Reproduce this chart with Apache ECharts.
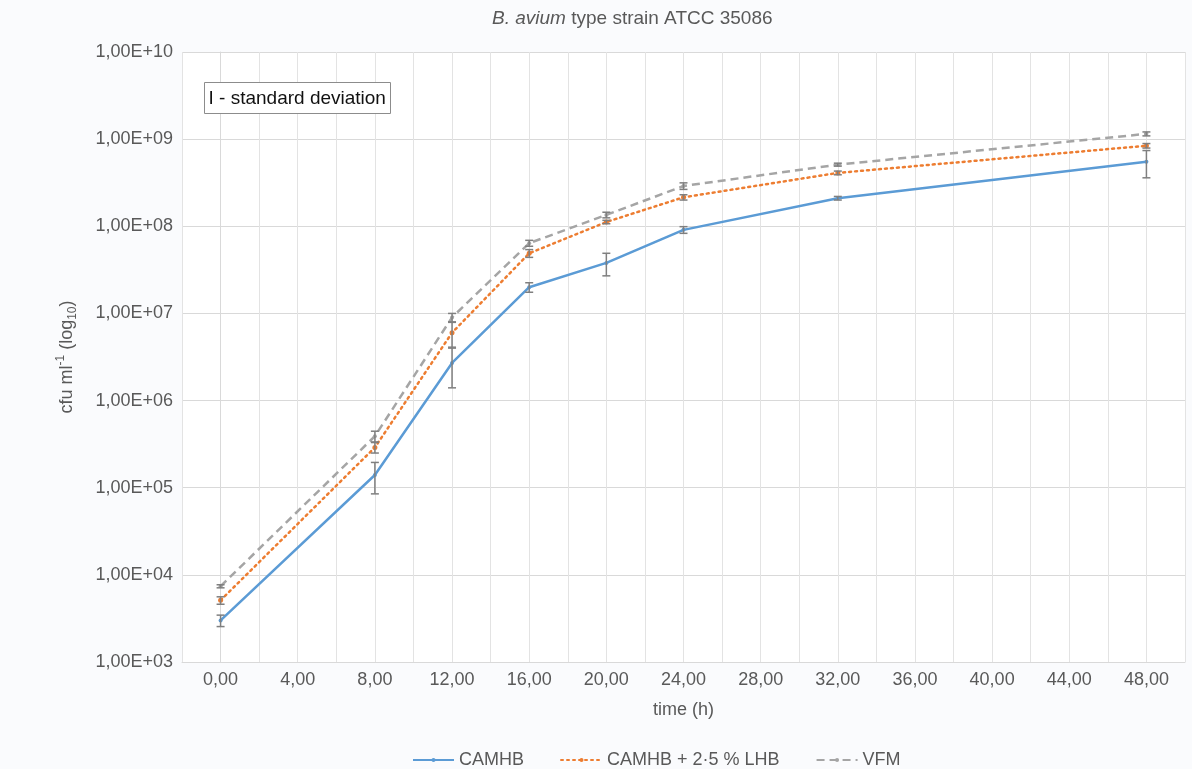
<!DOCTYPE html>
<html>
<head>
<meta charset="utf-8">
<script src="https://cdn.jsdelivr.net/npm/echarts@6/dist/echarts.min.js"></script>
<style>html,body{margin:0;padding:0;background:#fafbfd;}#c{width:1192px;height:769px;}</style>
</head>
<body>
<div id="c"></div>
<script>
// time points (h)
const timePoints = [0, 8, 12, 16, 20, 24, 32, 48];
// x tick labels (every 4 h)
const xTickLabels = ['0,00','4,00','8,00','12,00','16,00','20,00','24,00','28,00','32,00','36,00','40,00','44,00','48,00'];
// series values (cfu/ml) and standard deviations
const camhb    = [3.0e3, 1.4e5, 2.7e6, 2.0e7, 3.8e7, 9.1e7, 2.1e8, 5.5e8];
const camhbSD  = [0.45e3, 0.55e5, 1.3e6, 2.5e6, 1.1e7, 0.8e7, 0.1e8, 1.9e8];
const lhb      = [5.1e3, 2.9e5, 6.0e6, 4.9e7, 1.12e8, 2.15e8, 4.1e8, 8.4e8];
const lhbSD    = [0.5e3, 0.4e5, 1.9e6, 0.5e7, 0.05e8, 0.15e8, 0.2e8, 0.5e8];
const vfm      = [7.4e3, 3.9e5, 9.0e6, 6.4e7, 1.35e8, 2.9e8, 5.1e8, 1.15e9];
const vfmSD    = [0.3e3, 0.55e5, 1.0e6, 0.5e7, 0.1e8, 0.25e8, 0.2e8, 0.6e8];
const seriesNames = ['CAMHB', 'CAMHB + 2·5 % LHB', 'VFM'];

function pairs(vals){ return timePoints.map((t,i)=>[t, vals[i]]); }
function errData(vals, sd){ return timePoints.map((t,i)=>[t, vals[i]-sd[i], vals[i]+sd[i]]); }

function errSeries(vals, sd){
  return {
    type: 'custom',
    silent: true,
    z: 5,
    data: errData(vals, sd),
    encode: {x: 0, y: [1,2]},
    renderItem: function(params, api){
      const x = api.value(0);
      const lo = api.coord([x, api.value(1)]);
      const hi = api.coord([x, api.value(2)]);
      const w = 4;
      const st = {stroke: '#7f7f7f', lineWidth: 1.5};
      return {type: 'group', children: [
        {type:'line', shape:{x1:lo[0], y1:lo[1], x2:hi[0], y2:hi[1]}, style: st},
        {type:'line', shape:{x1:lo[0]-w, y1:lo[1], x2:lo[0]+w, y2:lo[1]}, style: st},
        {type:'line', shape:{x1:hi[0]-w, y1:hi[1], x2:hi[0]+w, y2:hi[1]}, style: st}
      ]};
    }
  };
}

const chart = echarts.init(document.getElementById('c'), null, {renderer: 'canvas'});
const textColor = '#595959';
const FF = 'Liberation Sans';
const option = {
  backgroundColor: '#fafbfd',
  animation: false,
  title: {
    text: '{i|B. avium}{n| type strain ATCC 35086}',
    left: 487, top: 4,
    textStyle: {
      fontWeight: 'normal',
      rich: {
        i: {fontStyle: 'italic', fontWeight: 'normal', fontSize: 19, color: textColor, fontFamily: FF},
        n: {fontWeight: 'normal', fontSize: 19, color: textColor, fontFamily: FF}
      }
    }
  },
  grid: {left: 182, right: 7, top: 52, bottom: 107, show: true, backgroundColor: '#ffffff', borderWidth: 0},
  legend: {
    data: seriesNames,
    top: 746,
    left: 407,
    itemGap: 36,
    itemWidth: 41,
    itemHeight: 5,
    textStyle: {fontSize: 18, color: textColor, fontFamily: FF}
  },
  xAxis: {
    type: 'value',
    min: -2, max: 50, interval: 2,
    name: 'time (h)',
    nameLocation: 'middle',
    nameGap: 39,
    nameTextStyle: {fontSize: 18, color: textColor, fontFamily: FF},
    axisLine: {show: true, lineStyle: {color: '#d9d9d9'}},
    axisTick: {show: false},
    splitLine: {show: true, lineStyle: {color: '#e3e3e3', width: 1}},
    axisLabel: {
      fontSize: 18, color: textColor, fontFamily: FF, margin: 9,
      formatter: function(v){
        if (v < 0 || v > 48 || v % 4 !== 0) return '';
        return xTickLabels[v/4];
      }
    }
  },
  yAxis: {
    type: 'log',
    logBase: 10,
    min: 1e3, max: 1e10,
    name: '{a|cfu ml}{s|-1}{a| (log}{b|10}{a|)}',
    nameLocation: 'middle',
    nameGap: 103,
    nameRotate: 90,
    nameTextStyle: {
      rich: {
        a: {fontSize: 18, color: textColor, fontFamily: FF, lineHeight: 24},
        s: {fontSize: 12, color: textColor, fontFamily: FF, verticalAlign: 'top', lineHeight: 24},
        b: {fontSize: 12, color: textColor, fontFamily: FF, verticalAlign: 'bottom', lineHeight: 24}
      }
    },
    axisLine: {show: true, lineStyle: {color: '#d9d9d9'}},
    axisTick: {show: false},
    splitLine: {show: true, lineStyle: {color: '#d9d9d9', width: 1}},
    axisLabel: {
      fontSize: 18, color: textColor, fontFamily: FF, margin: 9,
      formatter: function(v){
        const e = Math.round(Math.log10(v));
        return '1,00E+' + (e < 10 ? '0' + e : e);
      }
    }
  },
  graphic: [{
    type: 'group', left: 204, top: 82, z: 100,
    children: [
      {type: 'rect', z: 100, shape: {x: 0, y: 0, width: 186, height: 31}, style: {fill: '#ffffff', stroke: '#8c8c8c', lineWidth: 1}},
      {type: 'text', z: 101, x: 4, y: 16, style: {text: 'I - standard deviation', fill: '#111111', fontSize: 19, fontFamily: FF, verticalAlign: 'middle'}}
    ]
  }],
  series: [
    {
      name: seriesNames[0], type: 'line', data: pairs(camhb), z: 4,
      symbol: 'circle', symbolSize: 4,
      itemStyle: {color: '#5b9bd5'},
      lineStyle: {color: '#5b9bd5', width: 2.5}
    },
    {
      name: seriesNames[1], type: 'line', data: pairs(lhb), z: 3,
      symbol: 'circle', symbolSize: 5,
      itemStyle: {color: '#ed7d31'},
      lineStyle: {color: '#ed7d31', width: 2.5, type: [2, 4], cap: 'round'}
    },
    {
      name: seriesNames[2], type: 'line', data: pairs(vfm), z: 2,
      symbol: 'circle', symbolSize: 4,
      itemStyle: {color: '#a5a5a5'},
      lineStyle: {color: '#a5a5a5', width: 2.5, type: [8, 5]}
    },
    errSeries(camhb, camhbSD),
    errSeries(lhb, lhbSD),
    errSeries(vfm, vfmSD)
  ]
};
chart.setOption(option);
</script>
</body>
</html>
